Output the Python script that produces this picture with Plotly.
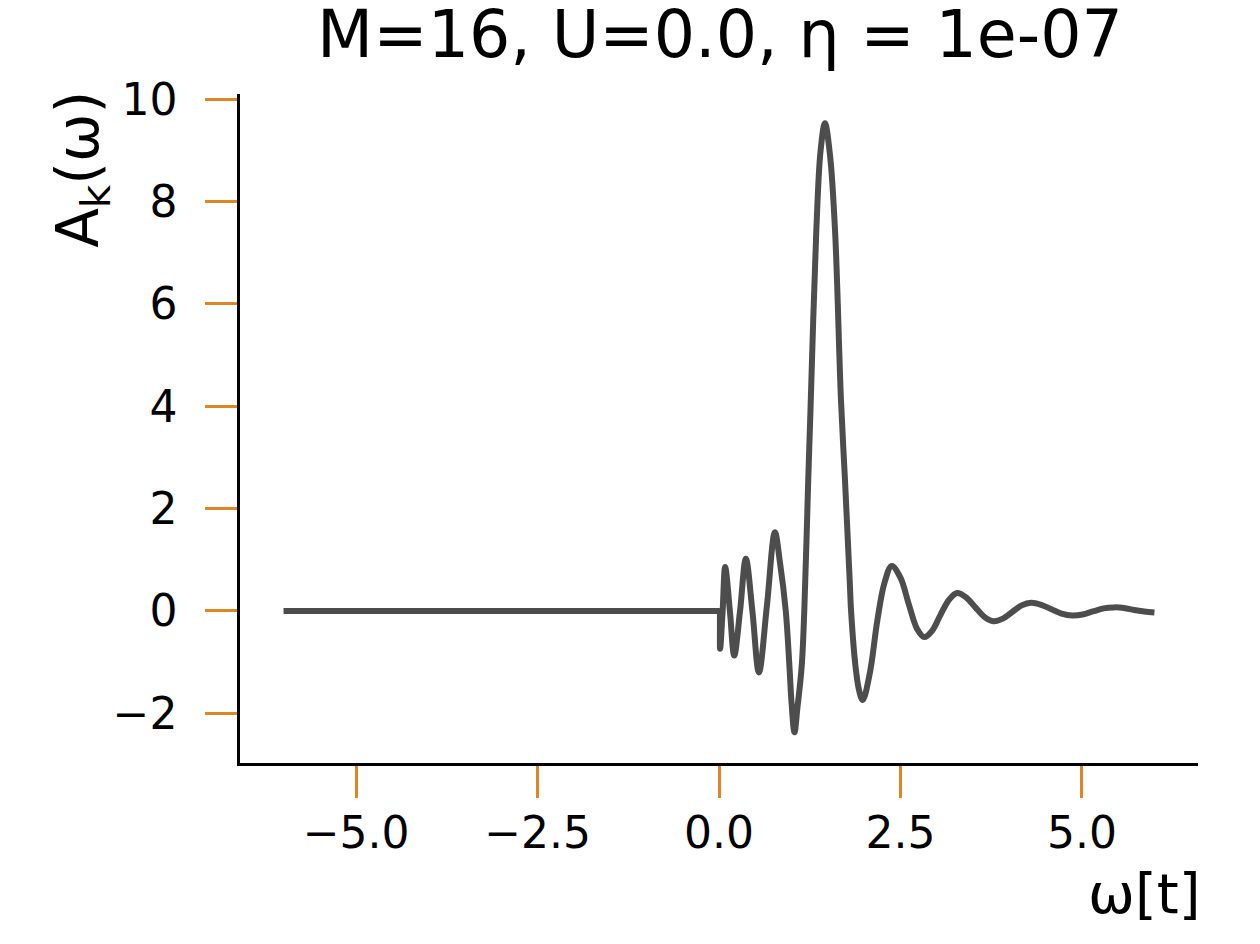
import plotly.graph_objects as go

# spectral function
omega = [
    -6.0, -0.05, -0.01, 0.0, 0.015, 0.05, 0.085, 0.15, 0.21, 0.29, 0.37, 0.46,
    0.55, 0.66, 0.77, 0.84, 0.92, 0.97, 1.00, 1.04, 1.08, 1.14, 1.175, 1.23,
    1.26, 1.34, 1.40, 1.46, 1.53, 1.60, 1.68, 1.735, 1.80, 1.82, 1.88, 1.93,
    1.98, 2.08, 2.18, 2.28, 2.38, 2.50, 2.62, 2.73, 2.83, 2.94, 3.05, 3.17,
    3.28, 3.40, 3.53, 3.66, 3.78, 3.91, 4.04, 4.17, 4.30, 4.44, 4.58, 4.72,
    4.87, 5.01, 5.15, 5.30, 5.44, 5.58, 5.72, 5.86, 6.0,
]
a_k = [
    0.0, 0.0, 0.0, 0.0, -0.74, 0.0, 0.86, 0.0, -0.87, 0.0, 1.02, 0.0,
    -1.20, 0.1, 1.54, 0.95, 0.0, -1.07, -1.8, -2.37, -1.9, -1.07, 0.0, 2.58,
    3.9, 7.4, 9.0, 9.53, 8.9, 7.4, 4.14, 2.58, 0.62, 0.0, -1.07, -1.55,
    -1.74, -1.2, -0.2, 0.55, 0.88, 0.65, 0.11, -0.35, -0.51, -0.38, -0.08, 0.22,
    0.35, 0.27, 0.075, -0.12, -0.20, -0.15, -0.02, 0.11, 0.16, 0.12, 0.035, -0.05,
    -0.09, -0.07, -0.01, 0.05, 0.07, 0.06, 0.02, -0.01, -0.03,
]

x_ticks = [-5.0, -2.5, 0.0, 2.5, 5.0]
x_ticktext = ["\u22125.0", "\u22122.5", "0.0", "2.5", "5.0"]
y_ticks = [-2, 0, 2, 4, 6, 8, 10]
y_ticktext = ["\u22122", "0", "2", "4", "6", "8", "10"]

font = "DejaVu Sans"
tick_orange = "#DE8526"

fig = go.Figure()
fig.add_trace(go.Scatter(
    x=omega, y=a_k, mode="lines",
    line=dict(color="#4d4d4d", width=6, shape="spline", smoothing=1.0),
    showlegend=False,
))

axis_common = dict(
    showgrid=False, zeroline=False, showline=True, linecolor="black", linewidth=2.5,
    mirror=False, ticks="outside", ticklen=32, tickwidth=2.5, tickcolor=tick_orange,
    tickfont=dict(family=font, size=44, color="black"), automargin=False,
)
fig.update_xaxes(range=[-6.6, 6.6], tickvals=x_ticks, ticktext=x_ticktext,
                 ticklabelstandoff=-3, **axis_common)
fig.update_yaxes(range=[-2.97, 10.1], tickvals=y_ticks, ticktext=y_ticktext,
                 ticklabelstandoff=19, **axis_common)

fig.update_layout(
    width=1260, height=944,
    margin=dict(l=232, r=70, t=86, b=189, autoexpand=False),
    plot_bgcolor="white", paper_bgcolor="white",
    title=dict(text="M=16, U=0.0, \u03b7 = 1e-07", x=0.5651, xanchor="center",
               y=1 - 26 / 944, yanchor="middle",
               font=dict(family=font, size=65, color="black")),
    annotations=[
        dict(text="\u03c9[t]", xref="paper", yref="paper", x=1.005, y=-0.195,
             xanchor="right", yanchor="middle", showarrow=False,
             font=dict(family=font, size=56, color="black")),
        dict(text="A<sub>k</sub>(\u03c9)", xref="paper", yref="paper", x=-0.165, y=0.888,
             xanchor="center", yanchor="middle", textangle=-90, showarrow=False,
             font=dict(family=font, size=58, color="black")),
    ],
)

fig.write_html("out.html")
